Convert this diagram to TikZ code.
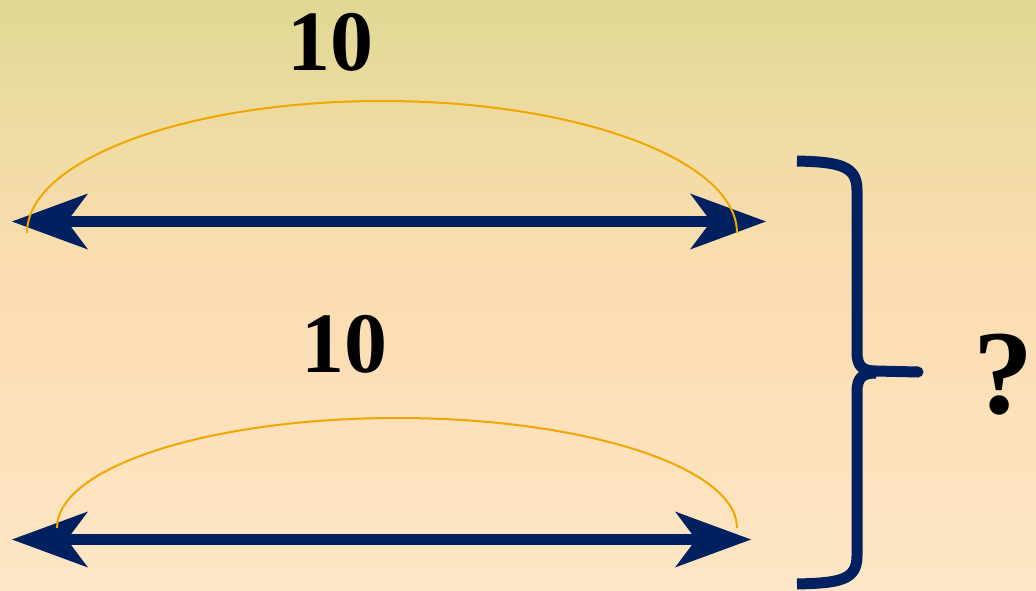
\documentclass[tikz,border=0pt]{standalone}
\usepackage{fontspec}
\setmainfont{Liberation Serif}
\usetikzlibrary{arrows.meta}
\definecolor{navy}{HTML}{002060}
\definecolor{arcorange}{HTML}{F0A800}
\definecolor{bgtop}{HTML}{DFD994}
\definecolor{bgupper}{HTML}{F1DCA6}
\definecolor{bgmid}{HTML}{FCDDB2}
\definecolor{bgbot}{HTML}{FDE6C6}
\pgfdeclareverticalshading{bgshade}{100bp}{color(0bp)=(bgbot); color(25bp)=(bgbot); color(50bp)=(bgmid); color(62.5bp)=(bgupper); color(75bp)=(bgtop); color(100bp)=(bgtop)}
\tikzset{
  dblarrow/.style={navy, line width=11pt,
    {Stealth[length=76pt, width=56pt, inset=21pt, line width=0pt]}-{Stealth[length=76pt, width=56pt, inset=21pt, line width=0pt]}},
  spanarc/.style={arcorange, line width=2pt},
  bracestroke/.style={navy, line width=11pt, line cap=butt, line join=round},
  numlabel/.style={font=\fontsize{86}{86}\selectfont\bfseries, inner sep=0pt, anchor=base},
  qlabel/.style={font=\fontsize{120}{120}\selectfont\bfseries, inner sep=0pt, anchor=base}
}
\begin{document}
\begin{tikzpicture}[x=1pt,y=-1pt]
\useasboundingbox (0,0) rectangle (1036,591);
\shade[shading=bgshade] (0,0) rectangle (1036,591);
% arrows
\coordinate (a1l) at (12,221.5);
\coordinate (a1r) at (766,221.5);
\coordinate (a2l) at (12,539.5);
\coordinate (a2r) at (751,539.5);
\draw[dblarrow] (a1l) -- (a1r);
\draw[dblarrow] (a2l) -- (a2r);
% arcs
\coordinate (c1s) at (27,233);
\coordinate (c2s) at (57,528);
\draw[spanarc] (c1s) arc[start angle=180, end angle=0, x radius=355, y radius=-132];
\draw[spanarc] (c2s) arc[start angle=180, end angle=0, x radius=340, y radius=-110];
% labels
\node[numlabel] (t1) at (330.5,71) {10};
\node[numlabel] (t2) at (344.5,372) {10};
\node[qlabel] (q) at (1003,413) {?};
% brace
\coordinate (btop) at (797,161);
\coordinate (bbot) at (797,584);
\coordinate (btip) at (918,372);
\draw[bracestroke] (btop) .. controls (840,162) and (857,166) .. (857,190) -- (857,352)
  .. controls (857,366) and (862,371) .. (876,371) -- (btip);
\draw[bracestroke] (bbot) .. controls (840,583) and (857,580) .. (857,556) -- (857,392)
  .. controls (857,378) and (862,373) .. (876,373);
\fill[navy] (btip) circle (5.5pt);
\end{tikzpicture}
\end{document}
